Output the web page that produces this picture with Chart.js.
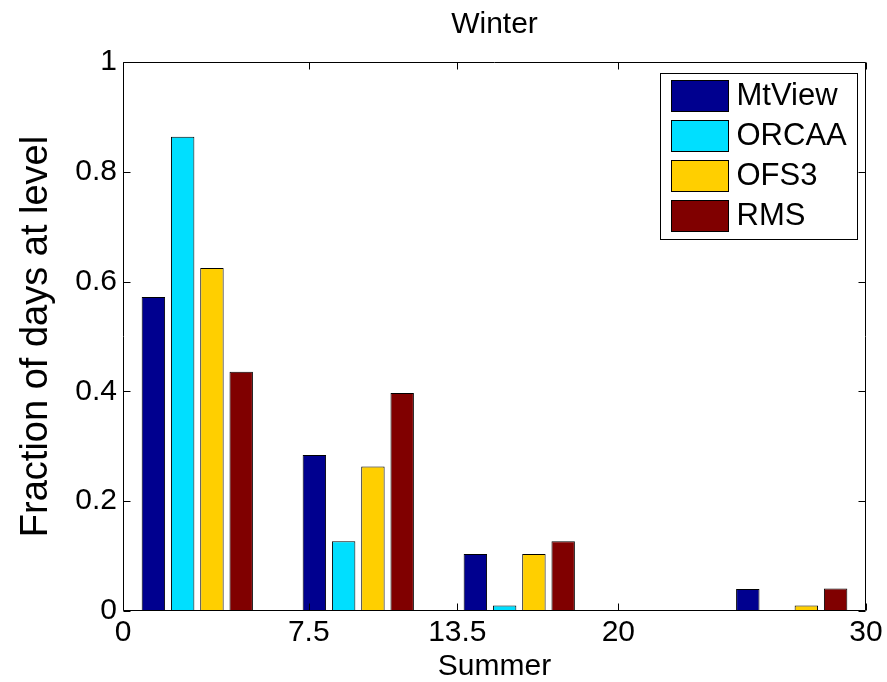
<!DOCTYPE html>
<html>
<head>
<meta charset="utf-8">
<script src="https://cdn.jsdelivr.net/npm/chart.js@4.4.1/dist/chart.umd.min.js"></script>
<style>
  body { margin: 0; background: #fff; }
  canvas { display: block; }
</style>
</head>
<body>
<canvas id="chart" width="887" height="682"></canvas>
<script>
// group centres on the x axis and the four series
const groupX = [3, 9.5, 16, 27];
const seriesNames = ['MtView', 'ORCAA', 'OFS3', 'RMS'];
const mtView = [0.572, 0.284, 0.104, 0.040];
const orcaa = [0.864, 0.127, 0.010, 0];
const ofs3 = [0.625, 0.263, 0.104, 0.010];
const rms = [0.436, 0.397, 0.127, 0.041];
const seriesColors = ['#00008F', '#00DFFF', '#FFCF00', '#800000'];

const xTickValues = [0, 7.5, 13.5, 20, 30];
const xTickLabels = ['0', '7.5', '13.5', '20', '30'];
const yTickValues = [0, 0.2, 0.4, 0.6, 0.8, 1];
const yTickLabels = ['0', '0.2', '0.4', '0.6', '0.8', '1'];

const FONT = '"Liberation Sans", Arial, Helvetica, sans-serif';
const ctx = document.getElementById('chart').getContext('2d');

const seriesValues = [mtView, orcaa, ofs3, rms];
const datasets = seriesValues.map((vals, i) => ({
    label: seriesNames[i],
    data: vals.map((v, j) => ({ x: groupX[j], y: v })),
    backgroundColor: seriesColors[i],
    borderColor: '#000',
    borderWidth: 1,
    borderSkipped: false,
    categoryPercentage: 0.788,
    barPercentage: 0.8
}));

// matlab-ish box: frame + inward ticks on all four sides
const framePlugin = {
    id: 'frame',
    afterDatasetsDraw(chart) {
        const c = chart.ctx;
        const a = chart.chartArea;
        const xs = chart.scales.x, ys = chart.scales.y;
        const L = Math.round(a.left) + 0.5, R = Math.round(a.right) - 0.5;
        const T = Math.round(a.top) + 0.5, B = Math.round(a.bottom) - 0.5;
        c.save();
        c.strokeStyle = '#000';
        c.lineWidth = 1;
        c.beginPath();
        c.rect(L, T, R - L, B - T);
        const len = 7;
        xTickValues.forEach(v => {
            const px = Math.round(xs.getPixelForValue(v)) + 0.5;
            c.moveTo(px, B); c.lineTo(px, B - len);
            c.moveTo(px, T); c.lineTo(px, T + len);
        });
        yTickValues.forEach(v => {
            const py = Math.round(ys.getPixelForValue(v)) + 0.5;
            c.moveTo(L, py); c.lineTo(L + len, py);
            c.moveTo(R, py); c.lineTo(R - len, py);
        });
        c.stroke();
        c.restore();
    }
};

// legend box inside the plot, top right
const boxLegend = {
    id: 'boxLegend',
    afterDraw(chart) {
        const c = chart.ctx;
        const a = chart.chartArea;
        const w = 197, h = 166;
        const left = Math.round(a.right) - 9 - w + 0.5;
        const top = Math.round(a.top) + 11 + 0.5;
        c.save();
        c.fillStyle = '#fff';
        c.fillRect(left, top, w, h);
        c.strokeStyle = '#000';
        c.lineWidth = 1;
        c.strokeRect(left, top, w, h);
        c.font = '31px ' + FONT;
        c.textBaseline = 'middle';
        chart.data.datasets.forEach((ds, i) => {
            const sy = top + 7 + i * 40;
            c.fillStyle = ds.backgroundColor;
            c.fillRect(left + 11, sy, 57, 31);
            c.strokeRect(left + 11, sy, 57, 31);
            c.fillStyle = '#000';
            c.fillText(ds.label, left + 76, sy + 16);
        });
        c.restore();
    }
};

const chart = new Chart(ctx, {
    type: 'bar',
    data: { datasets },
    options: {
        responsive: false,
        animation: false,
        layout: { padding: { left: 0, right: 21, top: 0, bottom: 0 } },
        plugins: {
            legend: { display: false },
            tooltip: { enabled: false },
            title: {
                display: true,
                text: 'Winter',
                fullSize: false,
                color: '#000',
                font: { family: FONT, size: 30, weight: 'normal', lineHeight: 1.2 },
                padding: { top: 7, bottom: 19 }
            }
        },
        scales: {
            x: {
                type: 'linear',
                min: 0,
                max: 30,
                offset: false,
                grid: { display: false, offset: false, drawTicks: false },
                border: { display: false },
                afterBuildTicks: scale => {
                    scale.ticks = xTickValues.map(v => ({ value: v }));
                },
                afterFit: scale => { scale.height = 71; },
                ticks: {
                    color: '#000',
                    padding: 4,
                    maxRotation: 0,
                    autoSkip: false,
                    font: { family: FONT, size: 30 },
                    callback: (v, i) => xTickLabels[i]
                },
                title: {
                    display: true,
                    text: 'Summer',
                    color: '#000',
                    font: { family: FONT, size: 30, lineHeight: 1 },
                    padding: { top: 0, bottom: 0 }
                }
            },
            y: {
                min: 0,
                max: 1,
                grid: { display: false, drawTicks: false },
                border: { display: false },
                afterBuildTicks: scale => {
                    scale.ticks = yTickValues.map(v => ({ value: v }));
                },
                afterFit: scale => { scale.width = 123; },
                ticks: {
                    color: '#000',
                    padding: 6,
                    font: { family: FONT, size: 30 },
                    callback: (v, i) => yTickLabels[i]
                },
                title: {
                    display: true,
                    text: 'Fraction of days at level',
                    color: '#000',
                    font: { family: FONT, size: 38, lineHeight: 1.2 },
                    padding: { top: 14, bottom: 0 }
                }
            }
        }
    },
    plugins: [framePlugin, boxLegend]
});
</script>
</body>
</html>
